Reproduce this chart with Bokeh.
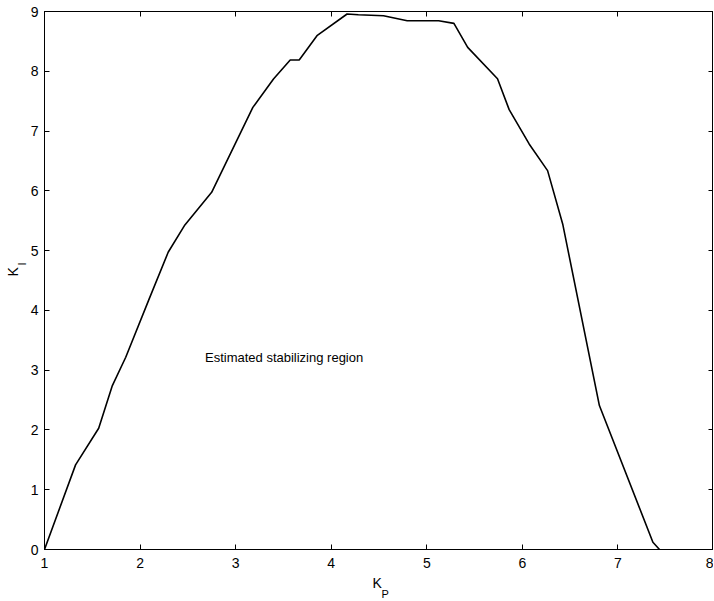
from bokeh.plotting import figure
from bokeh.models import Range1d, LinearAxis, Label, FixedTicker, Title
from bokeh.embed import file_html
from bokeh.resources import INLINE

kp = [1.0, 1.325, 1.567, 1.710, 1.850, 2.088, 2.294, 2.469, 2.749, 3.180, 3.396,
      3.571, 3.665, 3.851, 4.166, 4.284, 4.547, 4.795, 5.124, 5.284, 5.428, 5.740,
      5.862, 6.071, 6.264, 6.422, 6.806, 7.366, 7.435]
ki = [0.0, 1.416, 2.028, 2.742, 3.216, 4.164, 4.972, 5.430, 5.975, 7.396, 7.871,
      8.189, 8.189, 8.595, 8.958, 8.946, 8.930, 8.846, 8.846, 8.801, 8.400, 7.876,
      7.358, 6.784, 6.338, 5.446, 2.408, 0.122, 0.0]

x_ticks = [1, 2, 3, 4, 5, 6, 7, 8]
y_ticks = [0, 1, 2, 3, 4, 5, 6, 7, 8, 9]

FONT = "Liberation Sans"

p = figure(width=713, height=598, output_backend="svg", toolbar_location=None,
           x_range=Range1d(1, 8), y_range=Range1d(0, 9),
           min_border_left=44, min_border_right=0, min_border_top=11, min_border_bottom=49,
           x_axis_location=None, y_axis_location=None)
p.grid.visible = False
p.outline_line_color = "black"
p.outline_line_width = 1
p.background_fill_color = "white"
p.border_fill_color = "white"

def style(ax, labels=True, standoff=6, ticks=None):
    ax.major_tick_in = 5
    ax.major_tick_out = 0
    ax.minor_tick_in = 0
    ax.minor_tick_out = 0
    ax.axis_line_color = "black"
    ax.axis_line_width = 1
    ax.major_tick_line_color = "black"
    if labels:
        ax.major_label_text_font = FONT
        ax.major_label_text_font_size = "14px"
        ax.major_label_text_color = "black"
        ax.major_label_standoff = standoff
    else:
        ax.major_label_overrides = {t: "" for t in ticks}
        ax.major_label_standoff = 0

bottom = LinearAxis(ticker=FixedTicker(ticks=x_ticks))
style(bottom, True, 8)
left = LinearAxis(ticker=FixedTicker(ticks=y_ticks))
style(left, True, 6)
top = LinearAxis(ticker=FixedTicker(ticks=x_ticks))
style(top, False, ticks=x_ticks)
right = LinearAxis(ticker=FixedTicker(ticks=y_ticks))
style(right, False, ticks=y_ticks)
p.add_layout(bottom, "below")
p.add_layout(left, "left")
p.add_layout(top, "above")
p.add_layout(right, "right")

p.line(kp, ki, line_color="black", line_width=1.6)

p.add_layout(Label(x=2.679, y=3.216, text="Estimated stabilizing region",
                   text_font=FONT, text_font_size="13px", text_color="black",
                   text_align="left", text_baseline="middle"))

# axis labels K_P and K_I as side-panel titles
def ttl(t, side, size, standoff, offset):
    p.add_layout(Title(text=t, align="left", offset=offset, standoff=standoff,
                       text_font=FONT, text_font_size=size, text_color="black",
                       text_font_style="normal"), side)

ttl("K", "below", "14px", 4, 328)
ttl("P", "below", "11px", -13, 337)
ttl("I", "left", "11px", 0, 284)
ttl("K", "left", "14px", -15, 273)

open("out.html", "w").write(file_html(p, INLINE))
